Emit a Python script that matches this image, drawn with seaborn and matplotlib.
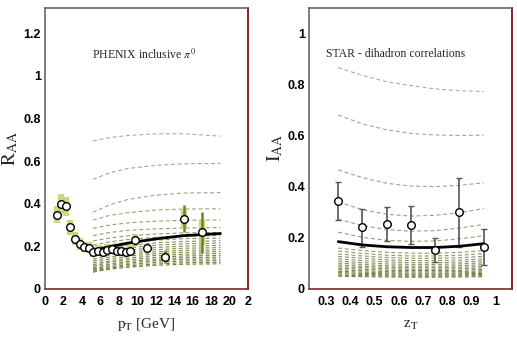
import numpy as np
import pandas as pd
import seaborn as sns
import matplotlib.pyplot as plt
from matplotlib.ticker import MultipleLocator

# PHENIX inclusive pi0 R_AA
pt = [1.25, 1.75, 2.25, 2.75, 3.25, 3.75, 4.25, 4.75, 5.25, 5.75, 6.25, 6.75,
      7.25, 7.75, 8.25, 8.75, 9.25, 9.75, 11.0, 13.0, 15.0, 17.0]
raa = [0.348, 0.40, 0.387, 0.29, 0.235, 0.213, 0.197, 0.193, 0.174, 0.18, 0.174, 0.185,
       0.187, 0.18, 0.18, 0.172, 0.18, 0.228, 0.19, 0.152, 0.33, 0.265]
raa_sys = [0.04, 0.045, 0.045, 0.035, 0.03, 0.028, 0.025, 0.025, 0.025, 0.025, 0.025, 0.025,
           0.025, 0.025, 0.025, 0.025, 0.025, 0.028, 0.022, 0.022, 0.04, 0.06]
raa_stat = [0.01, 0.01, 0.01, 0.01, 0.01, 0.01, 0.01, 0.01, 0.01, 0.01, 0.01, 0.01,
            0.01, 0.01, 0.01, 0.01, 0.01, 0.02, 0.02, 0.03, 0.065, 0.095]

# STAR dihadron I_AA
zt = [0.35, 0.45, 0.55, 0.65, 0.75, 0.85, 0.95]
iaa = [0.344, 0.241, 0.254, 0.249, 0.152, 0.30, 0.165]
iaa_lo = [0.27, 0.165, 0.187, 0.176, 0.104, 0.165, 0.094]
iaa_hi = [0.417, 0.311, 0.319, 0.324, 0.198, 0.434, 0.236]

# model curves, left panel
pt_grid = [5.2, 7, 9, 12, 15, 19]
raa_best = [0.18, 0.198, 0.215, 0.235, 0.25, 0.26]
raa_curves = [
    [0.695, 0.71, 0.72, 0.728, 0.728, 0.717],
    [0.514, 0.545, 0.565, 0.58, 0.587, 0.589],
    [0.36, 0.395, 0.42, 0.44, 0.45, 0.452],
    [0.323, 0.345, 0.358, 0.37, 0.375, 0.376],
    [0.284, 0.30, 0.31, 0.318, 0.322, 0.324],
    [0.25, 0.265, 0.275, 0.282, 0.286, 0.288],
    [0.225, 0.239, 0.249, 0.258, 0.263, 0.265],
    [0.205, 0.221, 0.232, 0.242, 0.248, 0.25],
    [0.19, 0.207, 0.219, 0.229, 0.236, 0.238],
    [0.172, 0.191, 0.204, 0.216, 0.223, 0.226],
    [0.16, 0.179, 0.193, 0.205, 0.212, 0.215],
    [0.15, 0.169, 0.182, 0.194, 0.201, 0.204],
    [0.14, 0.159, 0.172, 0.184, 0.191, 0.194],
    [0.131, 0.150, 0.163, 0.174, 0.181, 0.184],
    [0.122, 0.141, 0.154, 0.165, 0.172, 0.175],
    [0.114, 0.132, 0.145, 0.157, 0.163, 0.166],
    [0.107, 0.125, 0.137, 0.148, 0.155, 0.157],
    [0.100, 0.117, 0.129, 0.140, 0.147, 0.149],
    [0.094, 0.110, 0.122, 0.133, 0.139, 0.141],
    [0.088, 0.104, 0.115, 0.125, 0.131, 0.133],
    [0.083, 0.098, 0.108, 0.117, 0.123, 0.125],
    [0.079, 0.093, 0.102, 0.111, 0.116, 0.118],
]

# model curves, right panel
zt_grid = [0.35, 0.45, 0.55, 0.65, 0.75, 0.85, 0.95]
iaa_best = [0.185, 0.172, 0.165, 0.162, 0.162, 0.167, 0.177]
iaa_curves = [
    [0.865, 0.835, 0.81, 0.795, 0.782, 0.775, 0.772],
    [0.68, 0.645, 0.622, 0.608, 0.602, 0.600, 0.601],
    [0.465, 0.435, 0.413, 0.402, 0.400, 0.405, 0.415],
    [0.34, 0.31, 0.292, 0.285, 0.288, 0.298, 0.315],
    [0.272, 0.248, 0.232, 0.226, 0.228, 0.238, 0.252],
    [0.222, 0.202, 0.19, 0.186, 0.188, 0.196, 0.208],
    [0.160, 0.150, 0.143, 0.140, 0.140, 0.143, 0.150],
    [0.148, 0.139, 0.132, 0.129, 0.129, 0.132, 0.138],
    [0.137, 0.129, 0.123, 0.120, 0.120, 0.122, 0.128],
    [0.127, 0.120, 0.114, 0.111, 0.111, 0.113, 0.118],
    [0.118, 0.111, 0.106, 0.103, 0.103, 0.105, 0.110],
    [0.109, 0.103, 0.098, 0.096, 0.096, 0.098, 0.102],
    [0.101, 0.096, 0.091, 0.089, 0.089, 0.091, 0.095],
    [0.094, 0.089, 0.085, 0.083, 0.083, 0.085, 0.088],
    [0.087, 0.083, 0.079, 0.077, 0.077, 0.079, 0.082],
    [0.081, 0.077, 0.073, 0.072, 0.072, 0.073, 0.076],
    [0.075, 0.071, 0.068, 0.067, 0.067, 0.068, 0.071],
    [0.069, 0.066, 0.063, 0.062, 0.062, 0.063, 0.066],
    [0.064, 0.061, 0.059, 0.058, 0.058, 0.059, 0.061],
    [0.059, 0.057, 0.055, 0.054, 0.054, 0.055, 0.057],
    [0.054, 0.052, 0.051, 0.050, 0.050, 0.051, 0.052],
    [0.050, 0.048, 0.047, 0.046, 0.046, 0.047, 0.048],
]

sns.set_style('white')
plt.rcParams['font.family'] = ['Liberation Sans', 'DejaVu Sans']
plt.rcParams['mathtext.fontset'] = 'stix'

fig = plt.figure(figsize=(5.17, 3.44), dpi=100)
ax1 = fig.add_axes([0.087, 0.16, 0.393, 0.818])
ax2 = fig.add_axes([0.598, 0.16, 0.392, 0.818])


def curve_color(i, n):
    # tan-grey at the top, olive towards the bottom
    t = min(1.0, i / (n - 1))
    c0 = np.array([0.70, 0.67, 0.58])
    c1 = np.array([0.42, 0.50, 0.22])
    return tuple(c0 + (c1 - c0) * t ** 0.7)


def draw_curves(ax, xg, curves, best):
    n = len(curves)
    for i, c in enumerate(curves):
        df = pd.DataFrame({'x': xg, 'y': c})
        sns.lineplot(data=df, x='x', y='y', ax=ax, color=curve_color(i, n),
                     lw=0.8, dashes=False, linestyle=(0, (3.5, 2.5)), zorder=2)
    df = pd.DataFrame({'x': xg, 'y': best})
    sns.lineplot(data=df, x='x', y='y', ax=ax, color='black', lw=2.0, zorder=4)


# left panel
draw_curves(ax1, pt_grid, raa_curves, raa_best)
ax1.errorbar(pt, raa, yerr=raa_sys, fmt='none', ecolor='#c6d46e', elinewidth=4.5,
             alpha=0.9, zorder=3)
ax1.errorbar(pt, raa, yerr=raa_stat, fmt='none', ecolor='#6e8228', elinewidth=1.8,
             zorder=3)
sns.scatterplot(x=pt, y=raa, ax=ax1, marker='o', s=30, facecolor='white',
                edgecolor='black', linewidth=1.0, zorder=5)
ax1.set_xlim(0, 22)
ax1.set_ylim(0, 1.32)
ax1.xaxis.set_major_locator(MultipleLocator(2))
ax1.xaxis.set_minor_locator(MultipleLocator(0.5))
ax1.yaxis.set_major_locator(MultipleLocator(0.2))
ax1.yaxis.set_minor_locator(MultipleLocator(0.05))
ax1.set_xticks(np.arange(0, 23, 2))
ax1.set_xticklabels([str(v) for v in range(0, 22, 2)] + ['2'])
ax1.set_yticks([0, 0.2, 0.4, 0.6, 0.8, 1.0, 1.2])
ax1.set_yticklabels(['0', '0.2', '0.4', '0.6', '0.8', '1', '1.2'])
ax1.text(5.1, 1.10, r'PHENIX inclusive $\pi^0$', family='Liberation Serif',
         fontsize=8.5, va='center')
ax1.set_xlabel(r'p$_\mathrm{T}$ [GeV]', family='Liberation Serif', fontsize=11,
               labelpad=6)
ax1.set_ylabel(r'$\mathrm{R_{AA}}$', fontsize=14, labelpad=2)

# right panel
draw_curves(ax2, zt_grid, iaa_curves, iaa_best)
yerr = [np.array(iaa) - np.array(iaa_lo), np.array(iaa_hi) - np.array(iaa)]
ax2.errorbar(zt, iaa, yerr=yerr, fmt='none', ecolor='#555555', elinewidth=1.2,
             capsize=2.5, capthick=1.0, zorder=3)
sns.scatterplot(x=zt, y=iaa, ax=ax2, marker='o', s=30, facecolor='white',
                edgecolor='black', linewidth=1.0, zorder=5)
ax2.set_xlim(0.23, 1.066)
ax2.set_ylim(0, 1.1)
ax2.xaxis.set_minor_locator(MultipleLocator(0.02))
ax2.yaxis.set_minor_locator(MultipleLocator(0.05))
ax2.set_xticks([0.3, 0.4, 0.5, 0.6, 0.7, 0.8, 0.9, 1.0])
ax2.set_xticklabels(['0.3', '0.4', '0.5', '0.6', '0.7', '0.8', '0.9', '1'])
ax2.set_yticks([0, 0.2, 0.4, 0.6, 0.8, 1.0])
ax2.set_yticklabels(['0', '0.2', '0.4', '0.6', '0.8', '1'])
ax2.text(0.30, 0.92, 'STAR - dihadron correlations', family='Liberation Serif',
         fontsize=8.5, va='center')
ax2.set_xlabel(r'z$_\mathrm{T}$', family='Liberation Serif', fontsize=11,
               labelpad=8)
ax2.set_ylabel(r'$\mathrm{I_{AA}}$', fontsize=14, labelpad=2)

for ax in (ax1, ax2):
    for side in ('left', 'top'):
        ax.spines[side].set_color('#666666')
        ax.spines[side].set_linewidth(1.2)
    ax.spines['bottom'].set_color('#7a2a2a')
    ax.spines['right'].set_color('#8a2222')
    ax.spines['bottom'].set_linewidth(1.2)
    ax.spines['right'].set_linewidth(1.4)
    ax.tick_params(axis='both', which='major', direction='in', length=7, width=0.9,
                   labelsize=9, pad=3, colors='#333333', labelcolor='black')
    ax.tick_params(axis='both', which='minor', direction='in', length=3.5, width=0.8,
                   colors='#444444')
    ax.tick_params(axis='x', which='both', colors='#7a2a2a', labelcolor='black')
    ax.tick_params(axis='x', which='major', pad=5)
    for lab in ax.get_xticklabels() + ax.get_yticklabels():
        lab.set_fontweight('bold')

fig.savefig('out.png', dpi=100)
